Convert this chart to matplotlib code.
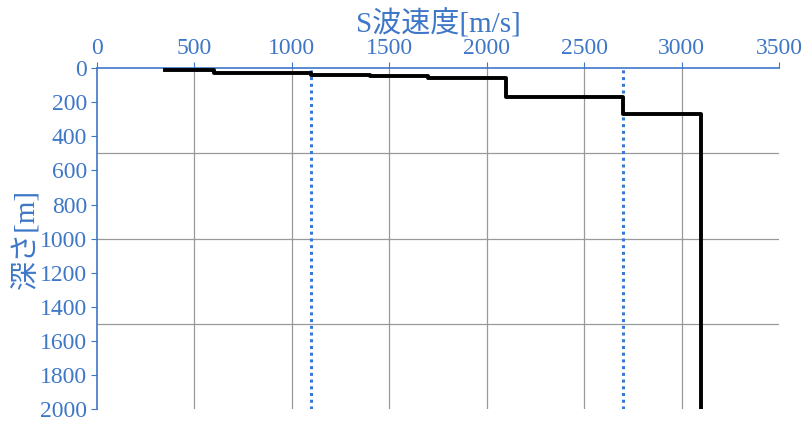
import matplotlib.pyplot as plt
from matplotlib.ticker import MultipleLocator

# S-wave velocity profile (m/s) and depth (m) at each velocity change
vel = [350, 600, 1100, 1400, 1700, 2100, 2700, 3100]
depth = [10, 25, 38, 46, 55, 170, 270, 2000]

# reference velocities (dotted lines)
ref_vel = [1100, 2700]

# gridline positions
grid_vel = [500, 1000, 1500, 2000, 2500, 3000]
grid_depth = [500, 1000, 1500]

blue = '#3F77C8'
fonts = ['Liberation Serif', 'Noto Sans CJK JP']

fig = plt.figure(figsize=(8.1, 4.26), dpi=100)
ax = fig.add_axes([0.1198, 0.04, 0.842, 0.7997])

for g in grid_vel:
    ax.axvline(g, color='#999999', linewidth=0.9, zorder=1)
for g in grid_depth:
    ax.axhline(g, color='#999999', linewidth=0.9, zorder=1)

for v in ref_vel:
    ax.axvline(v, color='#3A78D8', linestyle=(0, (1, 1.2)), linewidth=2.2, zorder=2)

ax.plot(vel, depth, drawstyle='steps-post', color='black', linewidth=2.8, zorder=3)

ax.set_xlim(0, 3500)
ax.set_ylim(2000, 0)
ax.xaxis.set_major_locator(MultipleLocator(500))
ax.yaxis.set_major_locator(MultipleLocator(200))
ax.xaxis.tick_top()
ax.xaxis.set_label_position('top')

for s in ['right', 'bottom']:
    ax.spines[s].set_visible(False)
for s in ['left', 'top']:
    ax.spines[s].set_color(blue)
    ax.spines[s].set_linewidth(1.2)

ax.tick_params(axis='both', which='major', colors=blue, labelcolor=blue, length=4, direction='out', pad=3)
for lab in ax.get_xticklabels() + ax.get_yticklabels():
    lab.set_fontfamily(fonts)
    lab.set_fontsize(17)

ax.set_xlabel('S波速度[m/s]', family=fonts, fontsize=21, color=blue, labelpad=4)
ax.set_ylabel('深さ[m]', family=fonts, fontsize=21, color=blue, labelpad=0)

fig.savefig('out.png', dpi=100)
